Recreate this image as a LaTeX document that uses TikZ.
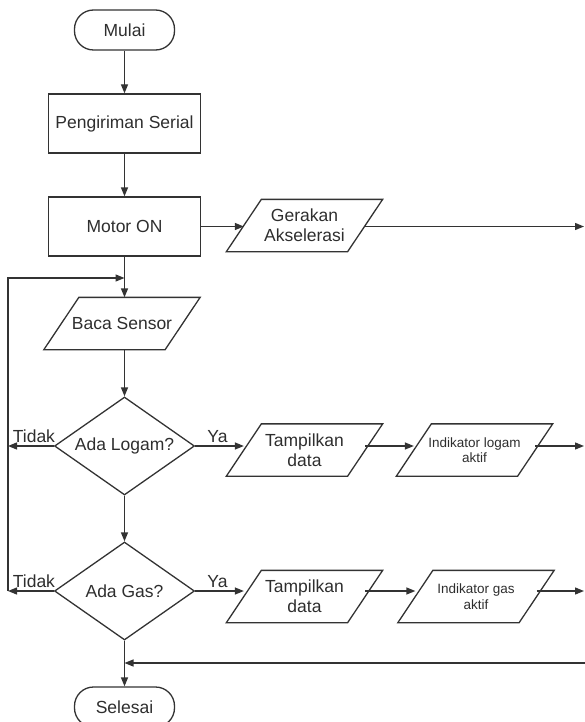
\documentclass[tikz,border=0pt]{standalone}
\usepackage{fontspec}
\setmainfont{Liberation Sans}
\usetikzlibrary{arrows.meta,shapes.geometric}
\definecolor{linec}{gray}{0.2}
\definecolor{txtc}{gray}{0.18}
\begin{document}
\begin{tikzpicture}[x=1pt,y=-1pt,line width=1.3pt,
  base/.style={draw=linec, text=txtc, font=\fontsize{17.5}{20}\selectfont, align=center, inner sep=0pt},
  term/.style={base, rounded corners=19pt, minimum width=100pt, minimum height=40pt},
  proc/.style={base, minimum width=152pt, minimum height=59pt},
  dec/.style={base, diamond, aspect=1.43, minimum width=140pt, minimum height=98pt},
  io/.style={text=txtc, font=\fontsize{17.5}{20}\selectfont, align=center, inner sep=0pt, minimum width=120pt, minimum height=51pt},
  small/.style={font=\fontsize{13.5}{15.5}\selectfont},
  arr/.style={draw=linec, -{Triangle[length=9pt,width=7pt]}},
  lbl/.style={text=txtc, font=\fontsize{17.5}{20}\selectfont, inner sep=0pt}]
\clip (0,0) rectangle (585,722);
% nodes
\node[term] (mulai) at (124.5,30) {Mulai};
\node[proc] (peng) at (124.5,123.5) {Pengiriman Serial};
\node[proc] (motor) at (124.5,226.5) {Motor ON};
\node[io] (gerak) at (304.5,225.5) {Gerakan\\Akselerasi};
\node[io] (baca) at (122,323.5) {Baca Sensor};
\node[dec] (logam) at (124.5,446) {Ada Logam?};
\node[io] (tamp1) at (304.5,450) {Tampilkan\\data};
\node[io,small] (ind1) at (474.5,450) {Indikator logam\\aktif};
\node[dec] (gas) at (124.5,591) {Ada Gas?};
\node[io] (tamp2) at (304.5,596.5) {Tampilkan\\data};
\node[io,small] (ind2) at (476,596.5) {Indikator gas\\aktif};
\node[term] (selesai) at (124.5,707) {Selesai};
% parallelogram outlines
\foreach \n in {gerak,baca,tamp1,ind1,tamp2,ind2}
  \draw[linec] ([xshift=17.5pt]\n.north west) -- ([xshift=17.5pt]\n.north east)
    -- ([xshift=-17.5pt]\n.south east) -- ([xshift=-17.5pt]\n.south west) -- cycle;
% free ends
\coordinate (rg) at (584,226.5);
\coordinate (r1) at (584,446);
\coordinate (r2) at (584,591);
\coordinate (rm) at (586,663);
\coordinate (l1) at (8,446);
\coordinate (l2) at (8,591);
\coordinate (lt) at (8,278);
% connectors
\draw[arr] (mulai) -- (peng);
\draw[arr] (peng) -- (motor);
\draw[arr] (motor.south) -- (motor.south |- baca.north);
\draw[arr] (motor.east) -- (motor.east -| gerak.west);
\draw[arr] (gerak.east |- motor.east) -- (rg);
\draw[arr] (logam.north |- baca.south) -- (logam.north);
\draw[arr] (logam.east) -- (logam.east -| tamp1.west) node[lbl, midway, above=3pt, xshift=-2pt] {Ya};
\draw[arr] (tamp1.east |- logam.east) -- (ind1.west |- logam.east);
\draw[arr] (ind1.east |- logam.east) -- (r1);
\draw[arr] (logam.west) -- (l1) node[lbl, midway, above=3pt, xshift=3pt] {Tidak};
\draw[arr] (logam.south) -- (gas.north);
\draw[arr] (gas.east) -- (gas.east -| tamp2.west) node[lbl, midway, above=3pt, xshift=-2pt] {Ya};
\draw[arr] (tamp2.east |- gas.east) -- (ind2.west |- gas.east);
\draw[arr] (ind2.east |- gas.east) -- (r2);
\draw[arr] (gas.west) -- (l2) node[lbl, midway, above=3pt, xshift=3pt] {Tidak};
\draw[arr] (l2) -- (lt) -- (lt -| motor.south);
\draw[arr] (gas.south) -- (selesai.north);
\draw[arr] (rm) -- (rm -| gas.south);
\end{tikzpicture}
\end{document}
